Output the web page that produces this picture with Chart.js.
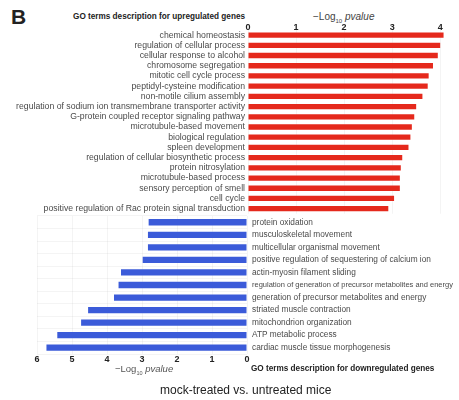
<!DOCTYPE html>
<html>
<head>
<meta charset="utf-8">
<script src="https://cdn.jsdelivr.net/npm/chart.js@4"></script>
<style>
  body { margin: 0; background: #fff; font-family: "Liberation Sans", Arial, sans-serif; }
  #wrap { position: relative; width: 459px; height: 400px; }
  canvas { position: absolute; left: 0; }
  .txt { position: absolute; white-space: nowrap; color: #222; }
</style>
</head>
<body>
<div id="wrap">
  <div class="txt" style="left:11px; top:5px; font-size:21px; font-weight:bold;">B</div>
  <div class="txt" style="right:214px; top:12px; font-size:8.2px; font-weight:bold;">GO terms description for upregulated genes</div>
  <div class="txt" style="left:313px; top:11px; font-size:10px; color:#444;">&minus;Log<sub style="font-size:6px">10</sub> <i>pvalue</i></div>
  <canvas id="up" style="top:18px" width="459" height="204"></canvas>
  <canvas id="down" style="top:206px" width="459" height="160"></canvas>
  <div class="txt" style="left:115px; top:363px; font-size:9.5px; color:#555;">&minus;Log<sub style="font-size:5.5px">10</sub> <i>pvalue</i></div>
  <div class="txt" style="left:251px; top:364px; font-size:8.2px; font-weight:bold;">GO terms description for downregulated genes</div>
  <div class="txt" style="left:160px; top:383px; font-size:12px; color:#222;">mock-treated vs. untreated mice</div>
</div>
<script>
{ // scoping

// upregulated GO terms, -log10 p
const upTerms = [
  "chemical homeostasis",
  "regulation of cellular process",
  "cellular response to alcohol",
  "chromosome segregation",
  "mitotic cell cycle process",
  "peptidyl-cysteine modification",
  "non-motile cilium assembly",
  "regulation of sodium ion transmembrane transporter activity",
  "G-protein coupled receptor signaling pathway",
  "microtubule-based movement",
  "biological regulation",
  "spleen development",
  "regulation of cellular biosynthetic process",
  "protein nitrosylation",
  "microtubule-based process",
  "sensory perception of smell",
  "cell cycle",
  "positive regulation of Rac protein signal transduction"
];
const upValues = [4.07, 4.0, 3.95, 3.85, 3.76, 3.74, 3.63, 3.5, 3.46, 3.41, 3.38, 3.34, 3.21, 3.18, 3.16, 3.16, 3.04, 2.92];

// downregulated GO terms
const downTerms = [
  "protein oxidation",
  "musculoskeletal movement",
  "multicellular organismal movement",
  "positive regulation of sequestering of calcium ion",
  "actin-myosin filament sliding",
  "regulation of generation of precursor metabolites and energy",
  "generation of precursor metabolites and energy",
  "striated muscle contraction",
  "mitochondrion organization",
  "ATP metabolic process",
  "cardiac muscle tissue morphogenesis"
];
const downValues = [2.81, 2.83, 2.83, 2.98, 3.6, 3.67, 3.8, 4.54, 4.74, 5.42, 5.73];

const upTicks = [0, 1, 2, 3, 4];
const downTicks = [0, 1, 2, 3, 4, 5, 6];

const FONT = "'Liberation Sans', Arial, sans-serif";
const gridColor = 'rgba(0,0,0,0.045)';

function fixTicks(vals) {
  return function(scale) { scale.ticks = vals.map(v => ({ value: v })); };
}

// upper chart
new Chart(document.getElementById('up'), {
  type: 'bar',
  data: {
    labels: upTerms,
    datasets: [{ data: upValues, backgroundColor: '#e5291c', barPercentage: 0.52, categoryPercentage: 1 }]
  },
  options: {
    indexAxis: 'y',
    responsive: false,
    animation: false,
    layout: { padding: { left: 0, right: 14, top: 0, bottom: 0 } },
    plugins: { legend: { display: false }, tooltip: { enabled: false } },
    scales: {
      x: {
        position: 'top',
        min: 0, max: 4.1,
        afterBuildTicks: fixTicks(upTicks),
        afterFit: s => { s.height = 12; },
        grid: { color: gridColor, drawTicks: false },
        border: { display: false },
        ticks: { padding: -3, color: '#222', font: { family: FONT, size: 9, weight: 'bold' } }
      },
      y: {
        afterFit: s => { s.width = 248; },
        grid: { display: false, drawTicks: false },
        border: { display: false },
        ticks: { padding: 3, autoSkip: false, color: '#4a4a4a', font: { family: FONT, size: 8.7 } }
      }
    }
  }
});

// lower chart, reversed axis
new Chart(document.getElementById('down'), {
  type: 'bar',
  data: {
    labels: downTerms,
    datasets: [{ data: downValues, backgroundColor: '#3b5bd9', barPercentage: 0.5, categoryPercentage: 1 }]
  },
  options: {
    indexAxis: 'y',
    responsive: false,
    animation: false,
    layout: { padding: { left: 37, right: 0, top: 0, bottom: 0 } },
    plugins: { legend: { display: false }, tooltip: { enabled: false } },
    scales: {
      x: {
        position: 'bottom',
        reverse: true,
        min: 0, max: 6,
        afterBuildTicks: fixTicks(downTicks),
        afterFit: s => { s.height = 12; },
        grid: { color: gridColor, drawTicks: false },
        border: { display: false },
        ticks: { padding: 0, color: '#222', font: { family: FONT, size: 9, weight: 'bold' } }
      },
      y: {
        position: 'right',
        afterFit: s => { s.width = 459 - 247; },
        grid: { color: gridColor, drawTicks: false },
        border: { display: false },
        ticks: {
          padding: 5, autoSkip: false, color: '#4a4a4a',
          font: ctx => ({ family: FONT, size: ctx.index === 5 ? 7.5 : 8.3 })
        }
      }
    }
  }
});

} // scoping
</script>
</body>
</html>
